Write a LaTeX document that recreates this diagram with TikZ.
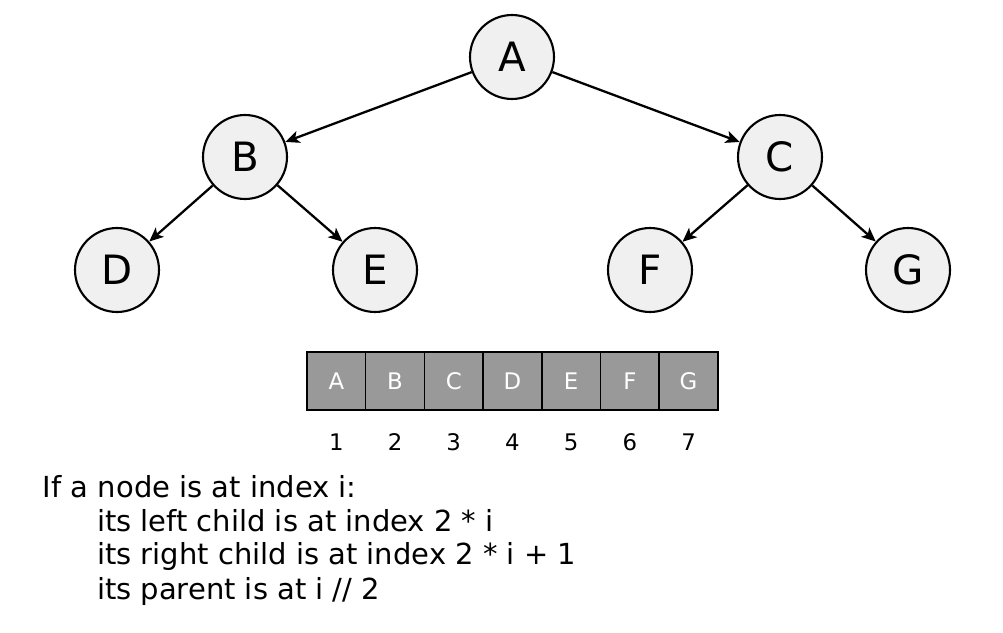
\documentclass[tikz,border=0pt]{standalone}
\usepackage{fontspec}
\setmainfont{DejaVu Sans}
\usetikzlibrary{arrows,arrows.meta,positioning}
\tikzset{
	vertex/.style = {draw, line width=1.2pt, fill=black!6, circle, minimum size=1.68cm, inner sep=0pt, font=\fontsize{23}{23}\selectfont},
	cell/.style = {draw, line width=0.9pt, fill=black!40, rectangle, minimum width=1.175cm, minimum height=1.16cm, inner sep=0pt, text=white, font=\fontsize{13}{13}\selectfont},
	index/.style = {draw=none, anchor=base, font=\fontsize{13}{13}\selectfont},
	rule/.style = {draw=none, anchor=west, font=\fontsize{16.5}{16.5}\selectfont}
}
\begin{document}
\begin{tikzpicture}[x=0.02cm, y=-0.02cm, >={Stealth[length=8pt,width=7pt,inset=2pt]}, line width=1.3pt]
		\useasboundingbox (0,0) rectangle (1003,632);
		% tree
		\node [vertex] (A) at (512,57) {A};
		\node [vertex] (B) at (245,157) {B};
		\node [vertex] (C) at (780,157) {C};
		\node [vertex] (D) at (117,270) {D};
		\node [vertex] (E) at (375,270) {E};
		\node [vertex] (F) at (650,270) {F};
		\node [vertex] (G) at (908,270) {G};
		\draw [->] (A) -- (B);
		\draw [->] (A) -- (C);
		\draw [->] (B) -- (D);
		\draw [->] (B) -- (E);
		\draw [->] (C) -- (F);
		\draw [->] (C) -- (G);
		% array
		\foreach \l [count=\i] in {A,B,C,D,E,F,G} {
			\node [cell] (cell\i) at ({307+58.7*(\i-0.5)},381) {\l};
			\node [index] (idx\i) at ({307+58.7*(\i-0.5)},450) {\i};
		}
		% rules
		\node [rule] (r0) at (36,487) {If a node is at index i:};
		\node [rule] (r1) at (90,521) {its left child is at index 2 * i};
		\node [rule] (r2) at (90,556) {its right child is at index 2 * i + 1};
		\node [rule] (r3) at (90,591) {its parent is at i // 2};
\end{tikzpicture}
\end{document}
